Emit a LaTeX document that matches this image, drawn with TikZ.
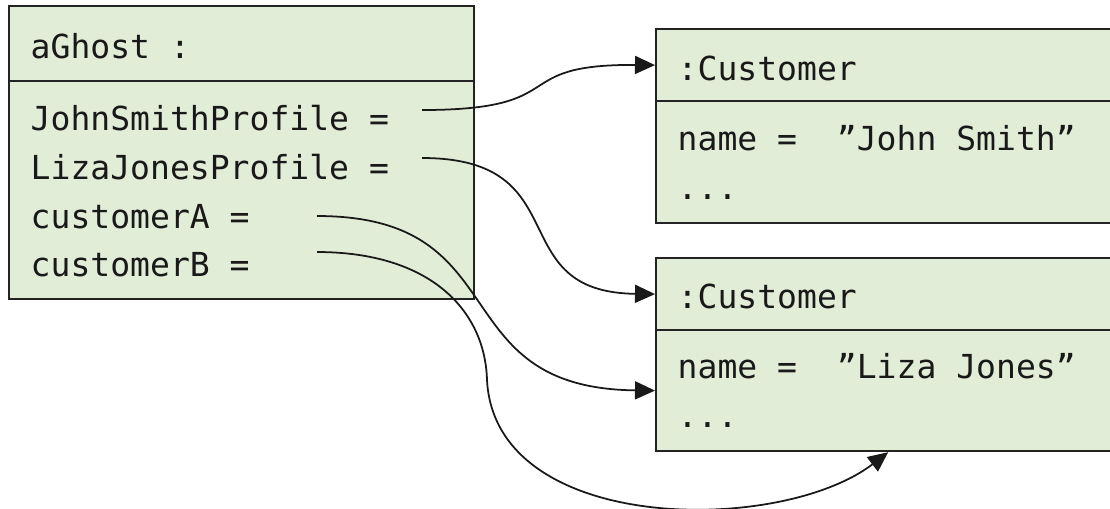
\documentclass[tikz,border=0pt]{standalone}
\usepackage{fontspec}
\setmonofont{DejaVu Sans Mono}
\usepackage{tikz}
\usetikzlibrary{arrows.meta, positioning}
\definecolor{objgreen}{RGB}{226, 237, 215}
\definecolor{objline}{RGB}{35, 35, 35}
\tikzset{
  objbox/.style={draw=objline, line width=0.6pt, fill=objgreen, inner sep=0pt, anchor=north west},
  objtext/.style={font=\ttfamily\fontsize{9.4}{11}\selectfont, text=black!90, inner sep=0pt, anchor=base west},
  link/.style={-{Triangle[length=0.2cm, width=0.18cm]}, line width=0.5pt, draw=black!90},
}

\begin{document}
\begin{tikzpicture}[x=0.01cm, y=-0.01cm]
  \useasboundingbox (0,0) rectangle (1110,508);
  \clip (0,0) rectangle (1110,508);

  % aGhost object
  \node[objbox, minimum width=4.65cm, minimum height=0.75cm] (ghosthead) at (8,5) {};
  \node[objbox, minimum width=4.65cm, minimum height=2.18cm] (ghostbody) at (8,80) {};
  \node[objtext] (ghostname) at (30,58) {aGhost :};
  \node[objtext] (johnref) at (30,130) {JohnSmithProfile =};
  \node[objtext] (lizaref) at (30,179) {LizaJonesProfile =};
  \node[objtext] (custAref) at (30,228) {customerA =};
  \node[objtext] (custBref) at (30,276) {customerB =};

  % first Customer
  \node[objbox, minimum width=4.64cm, minimum height=0.72cm] (cust1head) at (655,28) {};
  \node[objbox, minimum width=4.64cm, minimum height=1.22cm] (cust1body) at (655,100) {};
  \node[objtext] (cust1name) at (677,80) {:Customer};
  \node[objtext] (cust1attr) at (677,150) {name~=~~”John Smith”};
  \node[objtext] (cust1more) at (677,199) {...};

  % second Customer
  \node[objbox, minimum width=4.64cm, minimum height=0.72cm] (cust2head) at (655,257) {};
  \node[objbox, minimum width=4.64cm, minimum height=1.21cm] (cust2body) at (655,329) {};
  \node[objtext] (cust2name) at (677,308) {:Customer};
  \node[objtext] (cust2attr) at (677,378) {name~=~~”Liza Jones”};
  \node[objtext] (cust2more) at (677,427) {...};

  % references
  \coordinate (johnout) at (422,110);
  \coordinate (lizaout) at (422,158);
  \coordinate (custAout) at (317,216);
  \coordinate (custBout) at (317,252);
  \draw[link] (johnout) .. controls (575,110) and (505,64) .. (cust1head.west);
  \draw[link] (lizaout) .. controls (580,158) and (500,292) .. (cust2head.west);
  \draw[link] (custAout) .. controls (520,216) and (440,388) .. (cust2body.west);
  \draw[link] (custBout) .. controls (430,252) and (485,310) .. (487,380)
    .. controls (495,535) and (780,535) .. (cust2body.south);
\end{tikzpicture}
\end{document}
